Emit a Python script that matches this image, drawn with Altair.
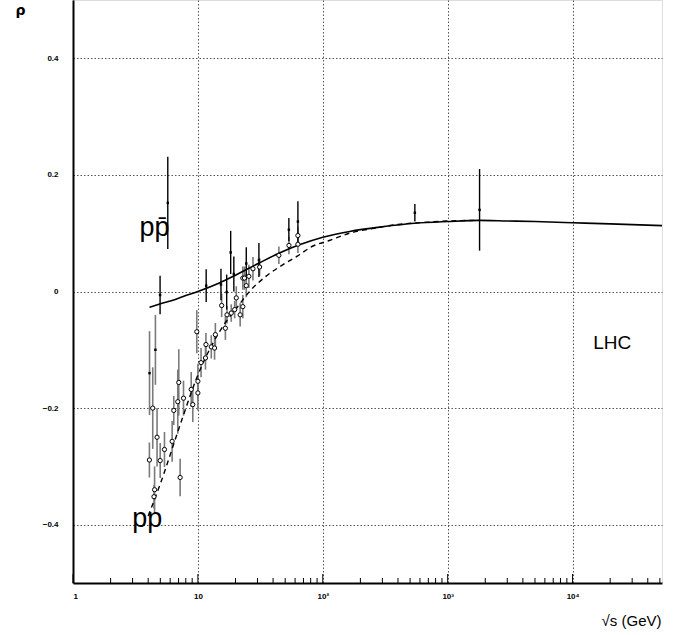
import altair as alt
import pandas as pd

# ---- model curves ----
pbar_curve_x = [4.1, 5.0, 6.5, 8.0, 10, 15, 20, 31, 45, 65, 100, 164, 300, 546, 1000, 1800, 3000, 5000, 10000, 20000, 52000]
pbar_curve_y = [-0.027, -0.021, -0.014, -0.007, 0.0, 0.015, 0.028, 0.049, 0.066, 0.080, 0.093, 0.103, 0.111, 0.117, 0.120, 0.122, 0.121, 0.120, 0.118, 0.116, 0.113]

pp_curve_x = [4.0, 5.0, 7.15, 10, 13, 16.9, 20, 25.9, 35, 48, 65, 80, 113, 164, 250, 400, 700, 1000, 1800]
pp_curve_y = [-0.385, -0.33, -0.231, -0.143, -0.091, -0.051, -0.031, 0.0, 0.026, 0.046, 0.063, 0.076, 0.0875, 0.100, 0.108, 0.115, 0.119, 0.121, 0.122]

# ---- pbar-p data (filled dots, black bars) ----
pbar_x = [4.98, 5.74, 11.65, 15.3, 17.0, 18.3, 19.4, 24.4, 30.8, 53.5, 63.2, 546, 1800]
pbar_y = [-0.006, 0.152, 0.010, 0.012, -0.001, 0.067, 0.030, 0.048, 0.054, 0.106, 0.120, 0.135, 0.140]
pbar_e = [0.033, 0.079, 0.028, 0.027, 0.030, 0.037, 0.030, 0.028, 0.029, 0.020, 0.035, 0.015, 0.070]

# ---- pp data (open circles, grey bars) ----
pp_x = [4.09, 4.35, 4.45, 4.5, 4.71, 4.99, 5.4, 6.22, 6.41, 6.9, 7.03, 7.21, 7.67, 8.84, 9.1,
        9.8, 10.0, 10.0, 10.6, 11.5, 11.6, 12.8, 13.6, 13.8, 15.5, 16.6, 17.1, 18.5, 19.7,
        20.3, 21.8, 22.9, 22.9, 23.6, 24.4, 25.6, 27.6, 31.2, 44.5, 53.6, 63.2, 63.2]
pp_y = [-0.289, -0.200, -0.352, -0.340, -0.250, -0.290, -0.271, -0.257, -0.204, -0.189, -0.156, -0.319, -0.183, -0.168, -0.194,
        -0.069, -0.154, -0.174, -0.122, -0.114, -0.091, -0.095, -0.097, -0.074, -0.024, -0.063, -0.040, -0.037, -0.031,
        -0.011, -0.040, -0.026, 0.023, 0.023, 0.010, 0.026, 0.039, 0.042, 0.062, 0.079, 0.096, 0.081]
pp_e = [0.030, 0.070, 0.020, 0.040, 0.050, 0.030, 0.030, 0.035, 0.025, 0.055, 0.057, 0.032, 0.030, 0.030, 0.030,
        0.037, 0.030, 0.030, 0.025, 0.020, 0.020, 0.020, 0.020, 0.020, 0.020, 0.020, 0.015, 0.015, 0.015,
        0.020, 0.020, 0.020, 0.020, 0.020, 0.020, 0.020, 0.020, 0.015, 0.015, 0.015, 0.015, 0.015]

# pp points drawn as small filled dots (grey bars)
ppd_x = [4.1, 4.57]
ppd_y = [-0.140, -0.100]
ppd_e = [0.072, 0.060]

# ---- annotations ----
ann_text = ["p\u0070\u0304", "pp", "LHC"]
ann_x = [4.49, 3.94, 20800]
ann_y = [0.109, -0.391, -0.088]
ann_size = [27, 27, 19]

major_ticks = [1, 10, 100, 1000, 10000]
minor_ticks = [m * d for d in [1, 10, 100, 1000, 10000] for m in range(2, 10) if m * d <= 52000]

W, H = 589, 583
xs = alt.Scale(type="log", domain=[1, 52000], nice=False)
ys = alt.Scale(domain=[-0.5, 0.5], nice=False, zero=False)

label_expr = ("datum.value == 1 ? '1' : datum.value == 10 ? '10' : datum.value == 100 ? '10\u00b2' : "
              "datum.value == 1000 ? '10\u00b3' : datum.value == 10000 ? '10\u2074' : ''")

GRID = dict(grid=True, gridDash=[1.5, 2], gridColor="#555", gridWidth=1)

x_axis = alt.Axis(values=major_ticks, labelExpr=label_expr, ticks=False, domainColor="black", domainWidth=2,
                  labelFont="Liberation Sans", labelFontWeight="bold", labelFontSize=8, labelPadding=9,
                  labelColor="black",
                  title="\u221as (GeV)", titleFont="Liberation Sans", titleFontWeight="normal", titleFontSize=15,
                  titleX=588, titleY=37, titleAlign="right", titleBaseline="middle", titleColor="black", **GRID)
y_axis = alt.Axis(values=[-0.4, -0.2, 0, 0.2, 0.4], labelExpr="datum.value == 0 ? '0' : format(datum.value, '.1f')",
                  ticks=False, domainColor="black", domainWidth=2, labelFont="Liberation Sans",
                  labelFontWeight="bold", labelFontSize=8, labelPadding=15, labelColor="black",
                  title="\u03c1", titleAngle=0, titleX=-53, titleY=10, titleAlign="center", titleBaseline="middle",
                  titleFont="DejaVu Sans", titleFontSize=14, titleFontWeight="bold", titleColor="black", **GRID)

pbar_df = pd.DataFrame({"x": pbar_x, "y": pbar_y, "lo": [a - b for a, b in zip(pbar_y, pbar_e)],
                        "hi": [a + b for a, b in zip(pbar_y, pbar_e)]})
pp_df = pd.DataFrame({"x": pp_x, "y": pp_y, "lo": [a - b for a, b in zip(pp_y, pp_e)],
                      "hi": [a + b for a, b in zip(pp_y, pp_e)]})
ppd_df = pd.DataFrame({"x": ppd_x, "y": ppd_y, "lo": [a - b for a, b in zip(ppd_y, ppd_e)],
                       "hi": [a + b for a, b in zip(ppd_y, ppd_e)]})
pbar_curve = pd.DataFrame({"x": pbar_curve_x, "y": pbar_curve_y})
pp_curve = pd.DataFrame({"x": pp_curve_x, "y": pp_curve_y})
ann_df = pd.DataFrame({"t": ann_text, "x": ann_x, "y": ann_y, "s": ann_size})

X = alt.X("x:Q", scale=xs, axis=x_axis)
Y = alt.Y("y:Q", scale=ys, axis=y_axis)
YLO = alt.Y("lo:Q", scale=ys, axis=y_axis)

base_axes = alt.Chart(pd.DataFrame({"x": [1, 52000], "y": [-0.5, 0.5]})).mark_point(opacity=0).encode(x=X, y=Y)

minor = alt.Chart(pd.DataFrame({"x": minor_ticks})).mark_rule(color="black", strokeWidth=1).encode(
    x=X, y=alt.value(H), y2=alt.value(H - 5))
major = alt.Chart(pd.DataFrame({"x": major_ticks})).mark_rule(color="black", strokeWidth=1).encode(
    x=X, y=alt.value(H), y2=alt.value(H - 9))

pp_bars = alt.Chart(pp_df).mark_rule(color="#7a7a7a", strokeWidth=1.6).encode(x=X, y=YLO, y2="hi:Q")
ppd_bars = alt.Chart(ppd_df).mark_rule(color="#7a7a7a", strokeWidth=1.6).encode(x=X, y=YLO, y2="hi:Q")
pbar_bars = alt.Chart(pbar_df).mark_rule(color="black", strokeWidth=1.4).encode(x=X, y=YLO, y2="hi:Q")

line_pbar = alt.Chart(pbar_curve).mark_line(color="black", strokeWidth=1.6, interpolate="monotone").encode(x=X, y=Y)
line_pp = alt.Chart(pp_curve).mark_line(color="black", strokeWidth=1.4, strokeDash=[5, 4],
                                        interpolate="monotone").encode(x=X, y=Y)

pp_pts = alt.Chart(pp_df).mark_point(shape="circle", size=18, filled=True, fill="white", stroke="black",
                                     strokeWidth=1, opacity=1).encode(x=X, y=Y)
ppd_pts = alt.Chart(ppd_df).mark_square(size=6, color="black", opacity=1).encode(x=X, y=Y)
pbar_pts = alt.Chart(pbar_df).mark_square(size=6, color="black", opacity=1).encode(x=X, y=Y)

ann = alt.Chart(ann_df).mark_text(font="Liberation Sans", color="black", align="center", baseline="middle").encode(
    x=X, y=Y, text="t:N", size=alt.Size("s:Q", scale=None, legend=None))

chart = alt.layer(base_axes, minor, major, pp_bars, ppd_bars, pbar_bars, line_pp, line_pbar,
                  pp_pts, ppd_pts, pbar_pts, ann).properties(
    width=W, height=H, autosize=alt.AutoSizeParams(type="none"),
    padding={"left": 73, "top": 0, "right": 26, "bottom": 52}
).configure_view(stroke="black", strokeWidth=1.5).configure(background="white")

chart.save("out.html", embed_options={"renderer": "svg", "actions": False})
